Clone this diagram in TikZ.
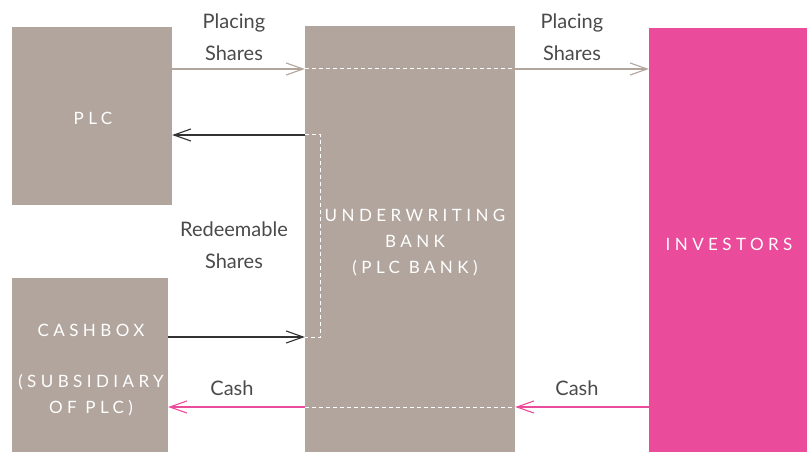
\documentclass[tikz,border=0pt]{standalone}
\usepackage{fontspec}
\setmainfont{Lato}
\newfontfamily\boxfont[LetterSpace=26]{Lato}
\usepackage{tikz}
\usetikzlibrary{arrows.meta}
\definecolor{bankgray}{HTML}{B1A59D}
\definecolor{investpink}{HTML}{EA4B9A}
\definecolor{labelgray}{HTML}{4A4A4A}
\tikzstyle{party}=[rectangle,fill=bankgray,inner sep=0pt]
\tikzstyle{partytext}=[text=white,align=center,font=\boxfont\fontsize{17}{26}\selectfont]
\tikzstyle{flow}=[draw,line width=1.1pt,-{Straight Barb[length=17pt,width=12pt]}]
\tikzstyle{inside}=[draw=white,line width=1pt,dash pattern=on 4pt off 3pt]
\tikzstyle{caption}=[text=labelgray,align=center,font=\fontsize{20}{32}\selectfont]

\begin{document}
\begin{tikzpicture}[x=1pt,y=-1pt]
          \useasboundingbox (0,0) rectangle (807,452);
          \node[party,minimum width=160pt,minimum height=178pt] (plc) at (92,116) {};
          \node[party,minimum width=156pt,minimum height=174pt] (cashbox) at (90,365) {};
          \node[party,minimum width=210pt,minimum height=426pt] (bank) at (410,239) {};
          \node[party,fill=investpink,minimum width=158pt,minimum height=424pt] (inv) at (728,240) {};
          \node[partytext] (plctext) at (93,118) {PLC};
          \node[partytext] (cashboxtext) at (91,370) {CASHBOX\\[25pt](SUBSIDIARY\\OF PLC)};
          \node[partytext] (banktext) at (415,243) {UNDERWRITING\\BANK\\(PLC BANK)};
          \node[partytext] (invtext) at (729,244) {INVESTORS};
          \coordinate (place) at (0,69);
          \coordinate (back) at (0,135);
          \coordinate (redeem) at (0,337);
          \coordinate (money) at (0,407);
          \draw[flow,bankgray] (plc.east |- place) -- (bank.west |- place);
          \draw[inside] (bank.west |- place) -- (bank.east |- place);
          \draw[flow,bankgray] (bank.east |- place) -- (inv.west |- place);
          \draw[flow,black!80] (bank.west |- back) -- (plc.east |- back);
          \draw[inside] (bank.west |- back) -- ++(16,0) |- (bank.west |- redeem);
          \draw[flow,black!80] (cashbox.east |- redeem) -- (bank.west |- redeem);
          \draw[flow,investpink] (inv.west |- money) -- (bank.east |- money);
          \draw[inside] (bank.west |- money) -- (bank.east |- money);
          \draw[flow,investpink] (bank.west |- money) -- (cashbox.east |- money);
          \node[caption] (placing1) at (234,37) {Placing\\Shares};
          \node[caption] (placing2) at (572,37) {Placing\\Shares};
          \node[caption] (redeemable) at (234,245) {Redeemable\\Shares};
          \node[caption] (cash1) at (232,388) {Cash};
          \node[caption] (cash2) at (577,388) {Cash};
        \end{tikzpicture}
\end{document}
